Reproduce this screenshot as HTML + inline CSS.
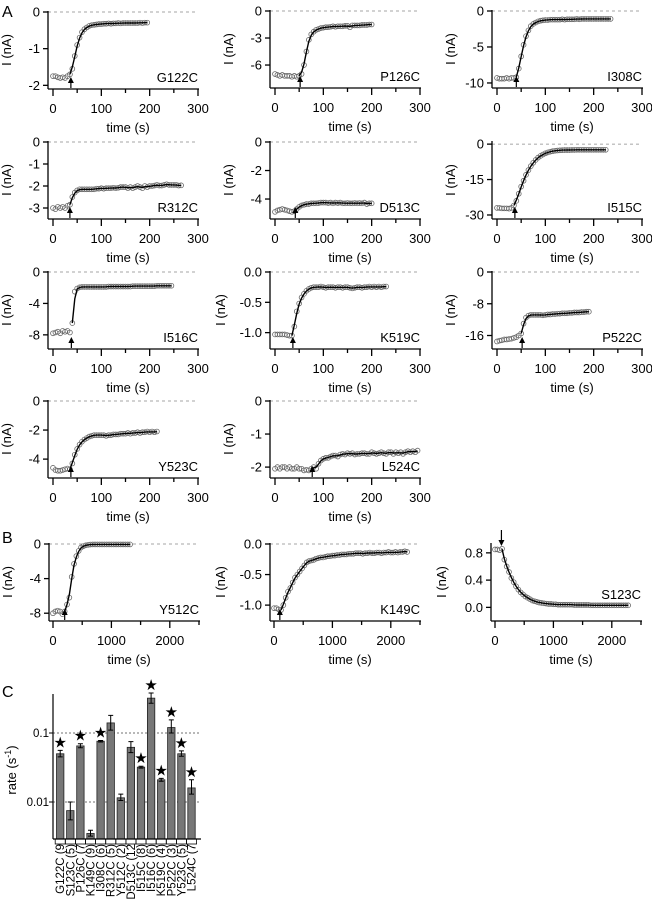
<!DOCTYPE html>
<html><head><meta charset="utf-8"><style>
html,body{margin:0;padding:0;background:#fff;}
svg{display:block;font-family:"Liberation Sans",Arial,sans-serif;}
</style></head><body>
<svg id="fig" width="652" height="899" viewBox="0 0 652 899" xmlns="http://www.w3.org/2000/svg"></svg>
<script>
// ---- Panel A/B trace data (current in nA, sampled every `step` seconds) ----
const g122cY=[-1.75,-1.75,-1.78,-1.8,-1.78,-1.8,-1.75,-1.7,-1.55,-1.2,-0.9,-0.7,-0.55,-0.47,-0.42,-0.38,-0.36,-0.35,-0.34,-0.33,-0.33,-0.32,-0.32,-0.31,-0.32,-0.31,-0.31,-0.3,-0.31,-0.3,-0.3,-0.3,-0.3,-0.3,-0.3,-0.3,-0.29,-0.3,-0.29,-0.29];
const p126cY=[-7.0,-7.1,-7.2,-7.1,-7.2,-7.2,-7.2,-7.3,-7.2,-7.3,-7.2,-7.0,-6.0,-4.5,-3.2,-2.6,-2.3,-2.1,-2.0,-1.9,-1.85,-1.8,-1.8,-1.75,-1.7,-1.75,-1.7,-1.7,-1.7,-1.65,-1.65,-1.8,-1.6,-1.6,-1.6,-1.6,-1.55,-1.55,-1.55,-1.5,-1.5];
const i308cY=[-9.3,-9.4,-9.4,-9.4,-9.3,-9.4,-9.3,-9.3,-9.2,-8.0,-6.3,-4.7,-3.5,-2.7,-2.1,-1.8,-1.6,-1.45,-1.35,-1.3,-1.25,-1.25,-1.2,-1.2,-1.2,-1.2,-1.2,-1.15,-1.2,-1.15,-1.15,-1.15,-1.15,-1.1,-1.15,-1.1,-1.1,-1.1,-1.1,-1.1,-1.1,-1.1,-1.1,-1.1,-1.1,-1.1,-1.1,-1.1];
const r312cY=[-3.0,-3.05,-2.95,-3.0,-2.95,-3.0,-2.9,-2.85,-2.5,-2.3,-2.2,-2.15,-2.15,-2.15,-2.15,-2.15,-2.15,-2.15,-2.12,-2.12,-2.1,-2.12,-2.1,-2.1,-2.1,-2.08,-2.1,-2.08,-2.05,-2.05,-2.05,-2.1,-2.05,-2.1,-2.05,-2.0,-2.05,-2.1,-2.0,-2.05,-2.0,-2.0,-1.98,-1.95,-1.98,-1.98,-1.95,-1.92,-1.95,-1.95,-1.95,-1.95,-1.98,-1.97];
const d513cY=[-4.9,-4.8,-4.75,-4.7,-4.75,-4.8,-4.85,-4.9,-4.85,-4.7,-4.55,-4.45,-4.4,-4.35,-4.35,-4.3,-4.3,-4.3,-4.28,-4.25,-4.25,-4.25,-4.28,-4.25,-4.3,-4.25,-4.28,-4.25,-4.3,-4.3,-4.28,-4.3,-4.3,-4.28,-4.3,-4.28,-4.3,-4.25,-4.35,-4.3,-4.3];
const i515cY=[-27,-27,-27.2,-27.2,-27.2,-27.3,-27,-26,-24,-21,-18,-15.5,-13,-11,-9.3,-7.9,-6.7,-5.7,-5.0,-4.4,-3.9,-3.5,-3.2,-3.0,-2.8,-2.7,-2.6,-2.55,-2.5,-2.5,-2.5,-2.45,-2.45,-2.4,-2.4,-2.4,-2.4,-2.4,-2.4,-2.4,-2.4,-2.4,-2.4,-2.4,-2.4,-2.4];
const i516cY=[-7.8,-7.7,-7.6,-7.8,-7.5,-7.6,-7.5,-7.7,-6.5,-2.5,-2.1,-1.95,-1.9,-1.9,-1.9,-1.9,-1.9,-1.9,-1.9,-1.9,-1.9,-1.9,-1.9,-1.85,-1.85,-1.85,-1.85,-1.85,-1.85,-1.85,-1.85,-1.85,-1.85,-1.8,-1.8,-1.8,-1.8,-1.8,-1.8,-1.8,-1.8,-1.8,-1.8,-1.75,-1.75,-1.75,-1.75,-1.75,-1.75,-1.75];
const k519cY=[-1.03,-1.03,-1.03,-1.03,-1.03,-1.04,-1.05,-1.05,-0.9,-0.65,-0.52,-0.42,-0.36,-0.31,-0.28,-0.26,-0.25,-0.25,-0.25,-0.24,-0.25,-0.26,-0.25,-0.25,-0.25,-0.26,-0.25,-0.25,-0.26,-0.25,-0.25,-0.26,-0.27,-0.26,-0.25,-0.25,-0.26,-0.25,-0.25,-0.24,-0.25,-0.24,-0.25,-0.24,-0.25,-0.24,-0.24];
const p522cY=[-17.5,-17.3,-17.2,-17.0,-17.0,-16.9,-16.8,-16.6,-16.4,-16.0,-15.5,-13,-11.5,-11,-10.8,-10.8,-10.8,-10.8,-10.8,-10.9,-10.8,-10.7,-10.7,-10.6,-10.6,-10.5,-10.5,-10.4,-10.4,-10.4,-10.3,-10.3,-10.2,-10.2,-10.2,-10.1,-10.1,-10.0,-10.0];
const y523cY=[-4.6,-4.75,-4.8,-4.8,-4.75,-4.7,-4.65,-4.7,-4.3,-3.7,-3.3,-3.0,-2.8,-2.65,-2.55,-2.45,-2.4,-2.35,-2.35,-2.35,-2.35,-2.35,-2.4,-2.35,-2.35,-2.3,-2.3,-2.3,-2.25,-2.25,-2.25,-2.2,-2.25,-2.2,-2.2,-2.15,-2.2,-2.15,-2.15,-2.1,-2.15,-2.1,-2.15,-2.1];
const l524cY=[-2.05,-2.0,-2.05,-2.0,-2.0,-2.05,-2.0,-2.05,-2.05,-2.0,-2.05,-2.05,-2.1,-2.08,-2.1,-2.05,-2.0,-2.05,-1.9,-1.8,-1.75,-1.72,-1.72,-1.68,-1.65,-1.65,-1.68,-1.62,-1.6,-1.62,-1.58,-1.6,-1.58,-1.62,-1.6,-1.6,-1.58,-1.58,-1.6,-1.6,-1.55,-1.58,-1.6,-1.58,-1.55,-1.58,-1.6,-1.55,-1.55,-1.6,-1.55,-1.58,-1.55,-1.6,-1.55,-1.52,-1.55,-1.52,-1.55,-1.5];
const y512cY=[-8.0,-7.8,-7.7,-7.8,-8.1,-7.8,-7.0,-6.2,-3.8,-2.3,-1.4,-0.8,-0.4,-0.25,-0.15,-0.1,-0.06,-0.05,-0.05,-0.05,-0.05,-0.05,-0.05,-0.05,-0.05,-0.05,-0.05,-0.05,-0.05,-0.05,-0.05,-0.05,-0.05,-0.05];
const k149cY=[-1.05,-1.05,-1.07,-1.08,-1.0,-0.88,-0.78,-0.72,-0.63,-0.55,-0.5,-0.45,-0.4,-0.35,-0.3,-0.28,-0.27,-0.26,-0.24,-0.23,-0.22,-0.22,-0.21,-0.2,-0.2,-0.19,-0.19,-0.18,-0.18,-0.17,-0.17,-0.17,-0.16,-0.16,-0.16,-0.15,-0.15,-0.15,-0.16,-0.15,-0.15,-0.14,-0.15,-0.15,-0.14,-0.14,-0.15,-0.14,-0.14,-0.13,-0.14,-0.14,-0.13,-0.14,-0.13,-0.13,-0.12,-0.13];
const s123cY=[0.85,0.85,0.84,0.86,0.7,0.6,0.52,0.43,0.37,0.31,0.26,0.22,0.19,0.16,0.14,0.12,0.1,0.09,0.08,0.07,0.065,0.06,0.055,0.05,0.05,0.045,0.045,0.04,0.04,0.04,0.04,0.04,0.04,0.04,0.035,0.035,0.035,0.035,0.035,0.035,0.035,0.03,0.03,0.03,0.03,0.03,0.03,0.03,0.03,0.03,0.03,0.03,0.03,0.03,0.03,0.03,0.03,0.03];
// arrow (application) times, s
const arrowTimes=[37,52,40,35,42,37,38,37,52,37,77,200,100,110];

// ---- Panel C data ----
const categories=["G122C (9","S123C (5)","P126C (7","K149C (9)","I308C (6)","R312C (5)","Y512C (2)","D513C (12","I515C (8)","I516C (6)","K519C (4)","P522C (3)","Y523C (5)","L524C (7"];
const rates=[0.05,0.0075,0.065,0.0035,0.076,0.14,0.0115,0.062,0.032,0.32,0.021,0.12,0.05,0.016];
const errLo=[0.045,0.0055,0.061,0.0032,0.074,0.11,0.0105,0.052,0.031,0.27,0.020,0.10,0.046,0.013];
const errHi=[0.056,0.010,0.070,0.0039,0.078,0.18,0.013,0.075,0.033,0.38,0.022,0.155,0.055,0.021];
const significant=[1,0,1,0,1,0,0,0,1,1,1,1,1,1];
const rateTicks=[0.1,0.01];
const rateTickLabels=["0.1","0.01"];

const NS="http://www.w3.org/2000/svg";
const svg=document.getElementById('fig');
function mk(tag,attrs,parent){const e=document.createElementNS(NS,tag);for(const k in attrs)e.setAttribute(k,attrs[k]);(parent||svg).appendChild(e);return e;}

const panels=[
 {name:"G122C",Y:g122cY,step:5,X:48,T:12,ymin:-2.1,ymax:0,xmax:300,yt:[0,-1,-2],yl:["0","-1","-2"]},
 {name:"P126C",Y:p126cY,step:5,X:270,T:11,ymin:-8.55,ymax:0,xmax:300,yt:[0,-3,-6],yl:["0","-3","-6"]},
 {name:"I308C",Y:i308cY,step:5,X:492,T:11,ymin:-10.7,ymax:0,xmax:300,yt:[0,-5,-10],yl:["0","-5","-10"]},
 {name:"R312C",Y:r312cY,step:5,X:48,T:142,ymin:-3.5,ymax:0,xmax:300,yt:[0,-1,-2,-3],yl:["0","-1","-2","-3"]},
 {name:"D513C",Y:d513cY,step:5,X:270,T:142,ymin:-5.4,ymax:0,xmax:300,yt:[0,-2,-4],yl:["0","-2","-4"]},
 {name:"I515C",Y:i515cY,step:5,X:492,T:142,ymin:-31.7,ymax:0.9,xmax:300,yt:[0,-15,-30],yl:["0","-15","-30"]},
 {name:"I516C",Y:i516cY,step:5,X:48,T:272,ymin:-9.8,ymax:0,xmax:300,yt:[0,-4,-8],yl:["0","-4","-8"]},
 {name:"K519C",Y:k519cY,step:5,X:270,T:272,ymin:-1.27,ymax:0,xmax:300,yt:[0,-0.5,-1],yl:["0.0","-0.5","-1.0"],wide:1},
 {name:"P522C",Y:p522cY,step:5,X:492,T:272,ymin:-19.4,ymax:0,xmax:300,yt:[0,-8,-16],yl:["0","-8","-16"]},
 {name:"Y523C",Y:y523cY,step:5,X:48,T:401,ymin:-5.3,ymax:0,xmax:300,yt:[0,-2,-4],yl:["0","-2","-4"]},
 {name:"L524C",Y:l524cY,step:5,X:270,T:401,ymin:-2.33,ymax:0,xmax:300,yt:[0,-1,-2],yl:["0","-1","-2"]},
 {name:"Y512C",Y:y512cY,step:40,X:49,T:544,ymin:-8.9,ymax:0,xmax:2500,yt:[0,-4,-8],yl:["0","-4","-8"]},
 {name:"K149C",Y:k149cY,step:40,X:270,T:544,ymin:-1.26,ymax:0,xmax:2500,yt:[0,-0.5,-1],yl:["0.0","-0.5","-1.0"],wide:1},
 {name:"S123C",Y:s123cY,step:40,X:491,T:544,ymin:-0.2,ymax:0.93,xmax:2500,yt:[0,0.4,0.8],yl:["0.0","0.4","0.8"],wide:1,down:1,nozero:1}
];

panels.forEach((p,pi)=>{
  const g=mk('g',{});
  
  
  const big=p.xmax>1000;
  const x0=p.X+(big?4:5), span=big?146:145;
  const xs=t=>x0+t*span/p.xmax;
  const H=77, yb=p.T+H;
  const ys=v=>yb-(v-p.ymin)*H/(p.ymax-p.ymin);
  const ax={stroke:'#000','stroke-width':1.3,fill:'none'};
  // zero line
  if(!p.nozero){const z=mk('line',{x1:p.X,x2:p.X+150,y1:ys(0),y2:ys(0),stroke:'#888','stroke-width':0.8,'stroke-dasharray':'3,3'},g);
    }
  // axes
  const ya=mk('line',Object.assign({x1:p.X,x2:p.X,y1:p.T-1,y2:yb},ax),g);
  
  const xa=mk('line',Object.assign({x1:p.X,x2:p.X+151,y1:yb,y2:yb},ax),g);
  
  p.yt.forEach((v,i)=>{
    mk('line',Object.assign({x1:p.X-5,x2:p.X,y1:ys(v),y2:ys(v)},ax),g);
    const t=mk('text',{x:p.X-8,y:ys(v)+4.5,'text-anchor':'end','font-size':13},g);
    t.textContent=p.yl[i];
    
  });
  const maj=big?[0,1000,2000]:[0,100,200,300];
  const mnr=big?[500,1500,2500]:[50,150,250];
  maj.forEach(v=>{
    mk('line',Object.assign({x1:xs(v),x2:xs(v),y1:yb,y2:yb+7},ax),g);
    const t=mk('text',{x:xs(v),y:yb+24,'text-anchor':'middle','font-size':13},g);
    t.textContent=v;
    
  });
  mnr.forEach(v=>{ if(v<=p.xmax) mk('line',Object.assign({x1:xs(v),x2:xs(v),y1:yb,y2:yb+4},ax),g);});
  const xt=mk('text',{x:p.X+80,y:yb+43,'text-anchor':'middle','font-size':13},g);
  xt.textContent='time (s)';
  
  const lx=p.X-(p.wide?45:37), ly=p.T+38;
  const yl=mk('text',{x:lx,y:ly,'text-anchor':'middle','font-size':13,transform:'rotate(-90 '+lx+' '+ly+')'},g);
  yl.textContent='I (nA)';
  
  const nm=mk('text',{x:p.X+150,y:yb-(p.down?22:7),'text-anchor':'end','font-size':13},g);
  nm.textContent=p.name;
  
  // data points
  p.Y.forEach((v,i)=>{
    const c=mk('circle',{cx:xs(i*p.step),cy:ys(v),r:2.4,fill:'none',stroke:'#666','stroke-width':0.8},g);
    
  });
  // fit line (smoothed data after application)
  const at=arrowTimes[pi];
  const i0=Math.max(0,Math.round(at/p.step));
  const pts=[];
  for(let i=i0;i<p.Y.length;i++){
    const a=p.Y[Math.max(i0,i-1)],b=p.Y[i],c=p.Y[Math.min(p.Y.length-1,i+1)];
    const v=(i===i0)?b:(a+2*b+c)/4;
    pts.push(xs(i*p.step).toFixed(1)+','+ys(v).toFixed(1));
  }
  const fl=mk('polyline',{points:pts.join(' '),fill:'none',stroke:'#000','stroke-width':1.4},g);
  
  // arrow
  const ax0=xs(at);
  const ar=mk('g',{},g);
  
  if(p.down){
    mk('line',{x1:ax0,x2:ax0,y1:p.T-14,y2:p.T,stroke:'#000','stroke-width':1.2},ar);
    mk('path',{d:`M${ax0-3},${p.T-4} L${ax0+3},${p.T-4} L${ax0},${p.T+2} Z`,fill:'#000'},ar);
  } else {
    mk('line',{x1:ax0,x2:ax0,y1:yb-1,y2:yb-9,stroke:'#000','stroke-width':1.2},ar);
    mk('path',{d:`M${ax0-3},${yb-6} L${ax0+3},${yb-6} L${ax0},${yb-12} Z`,fill:'#000'},ar);
  }
});

// panel letters
[["A",2,17],["B",2,543],["C",2,697]].forEach(l=>{
  const t=mk('text',{x:l[1],y:l[2],'font-size':16});t.textContent=l[0];
  
});

// ---- Panel C ----
(function(){
  const g=mk('g',{});
  
  const AX=53, top=694, base=839, dec=69, y01=733;
  const ys=v=>y01-dec*(Math.log10(v)+1);
  const pitch=10.1, bw=7.4, first=56.5;
  rateTicks.forEach((v,i)=>{
    const gl=mk('line',{x1:AX,x2:201,y1:ys(v),y2:ys(v),stroke:'#444','stroke-width':0.8,'stroke-dasharray':'2,2'},g);
    
    mk('line',{x1:AX-4,x2:AX,y1:ys(v),y2:ys(v),stroke:'#000','stroke-width':1},g);
    const t=mk('text',{x:AX-4,y:ys(v)+4,'text-anchor':'end','font-size':11.5},g);
    t.textContent=rateTickLabels[i];
    
  });
  const ya=mk('line',{x1:AX,x2:AX,y1:top,y2:base,stroke:'#000','stroke-width':1.2},g);
  
  const yt=mk('text',{x:16,y:770,'text-anchor':'middle','font-size':13,transform:'rotate(-90 16 770)'},g);
  yt.innerHTML='rate (s<tspan dy="-5" font-size="9">-1</tspan><tspan dy="5">)</tspan>';
  
  rates.forEach((v,i)=>{
    const x=first+i*pitch;
    const b=mk('rect',{x:x,y:ys(v),width:bw,height:base-ys(v),fill:'#777',stroke:'#222','stroke-width':0.8},g);
    
    const cx=x+bw/2;
    const e=mk('path',{d:`M${cx},${ys(errLo[i])} V${ys(errHi[i])} M${cx-2.5},${ys(errLo[i])} H${cx+2.5} M${cx-2.5},${ys(errHi[i])} H${cx+2.5}`,stroke:'#000','stroke-width':1,fill:'none'},g);
    
    if(significant[i]){
      const s=mk('text',{x:cx,y:ys(errHi[i])-3,'text-anchor':'middle','font-size':15},g);
      s.textContent='\u2605';
      
    }
    mk('rect',{x:x-1.3,y:base,width:pitch,height:5,fill:'none',stroke:'#000','stroke-width':0.8},g);
    const lx=cx+4, ly=base+5;
    const t=mk('text',{x:lx,y:ly,'text-anchor':'end','font-size':11.5,transform:'rotate(-90 '+lx+' '+ly+')'},g);
    t.textContent=categories[i];
    
  });
  const xa=mk('line',{x1:AX,x2:201,y1:base,y2:base,stroke:'#000','stroke-width':1.2},g);
  
})();
</script>
</body></html>
